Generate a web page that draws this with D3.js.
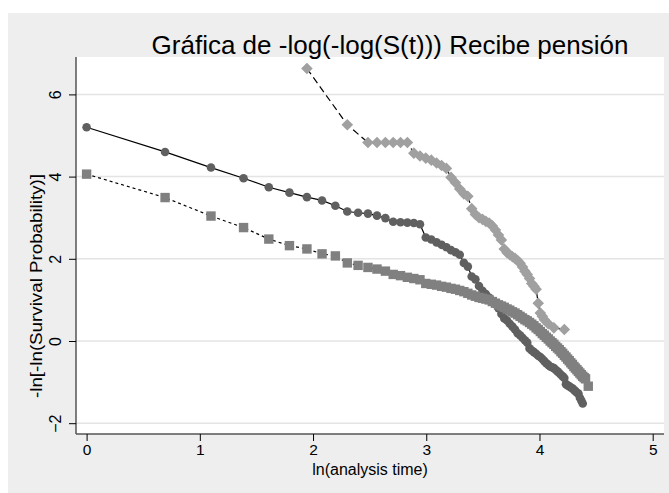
<!DOCTYPE html>
<html><head><meta charset="utf-8">
<script src="https://cdn.jsdelivr.net/npm/d3@7"></script>
<style>body{margin:0;background:#fff}svg{display:block}text{font-family:"Liberation Sans",Arial,sans-serif;fill:#000}</style>
</head><body><svg id="c" width="669" height="493"></svg>
<script>
const title = "Gráfica de -log(-log(S(t))) Recibe pensión";
const xLabel = "ln(analysis time)";
const yLabel = "-ln[-ln(Survival Probability)]";
const xTicks = [0, 1, 2, 3, 4, 5];
const yTicks = [-2, 0, 2, 4, 6];

// Series 1 (circles, solid line)
const timesA = [1,2,3,4,5,6,7,8,9,10,11,12,13,14,15,16,17,18,19,20,21,22,23,24,25,26,27,28,29,30,31,32,33,34,35,36,37,38,39,40,41,42,43,44,45,46,47,48,49,50,51,52,53,54,55,56,57,58,59,60,61,62,63,64,65,66,67,68,69,70,71,72,73,74,75,76,77,78,79,80];
const valuesA = [5.20,4.60,4.22,3.96,3.74,3.61,3.50,3.42,3.29,3.15,3.12,3.10,3.05,2.99,2.90,2.89,2.88,2.87,2.84,2.52,2.47,2.40,2.34,2.28,2.21,2.16,2.10,1.90,1.81,1.57,1.50,1.34,1.22,1.14,1.06,0.98,0.90,0.80,0.66,0.55,0.50,0.42,0.35,0.28,0.19,0.14,0.08,0.02,-0.04,-0.18,-0.23,-0.27,-0.31,-0.36,-0.39,-0.44,-0.49,-0.54,-0.58,-0.62,-0.64,-0.66,-0.70,-0.74,-0.78,-0.82,-0.86,-0.90,-1.05,-1.08,-1.10,-1.13,-1.15,-1.19,-1.22,-1.26,-1.28,-1.38,-1.45,-1.52];

// Series 2 (squares, short-dashed line)
const timesB = [1,2,3,4,5,6,7,8,9,10,11,12,13,14,15,16,17,18,19,20,21,22,23,24,25,26,27,28,29,30,31,32,33,34,35,36,37,38,39,40,41,42,43,44,45,46,47,48,49,50,51,52,53,54,55,56,57,58,59,60,61,62,63,64,65,66,67,68,69,70,71,72,73,74,75,76,77,78,79,80,81,82,84];
const valuesB = [4.06,3.49,3.04,2.76,2.48,2.32,2.24,2.12,2.07,1.90,1.84,1.79,1.75,1.70,1.62,1.59,1.55,1.52,1.49,1.40,1.38,1.36,1.33,1.31,1.28,1.26,1.23,1.20,1.16,1.12,1.09,1.06,1.04,1.02,1.00,0.96,0.92,0.88,0.85,0.82,0.78,0.75,0.71,0.68,0.64,0.60,0.56,0.52,0.49,0.45,0.41,0.37,0.32,0.28,0.23,0.18,0.14,0.09,0.05,0.00,-0.04,-0.08,-0.13,-0.17,-0.21,-0.26,-0.30,-0.35,-0.39,-0.44,-0.48,-0.53,-0.57,-0.62,-0.66,-0.70,-0.74,-0.78,-0.82,-0.86,-0.89,-0.92,-1.10];

// Series 3 (diamonds, long-dashed line)
const timesC = [7,10,12,13,14,15,16,17,18,19,20,21,22,23,24,25,26,27,28,29,30,31,32,33,34,35,36,37,38,39,40,41,42,43,44,45,46,47,48,49,50,51,52,53,54,55,56,57,59,62,68];
const valuesC = [6.63,5.26,4.83,4.83,4.83,4.83,4.83,4.83,4.57,4.50,4.45,4.40,4.33,4.27,4.20,3.98,3.85,3.70,3.58,3.52,3.22,3.08,3.00,2.96,2.91,2.87,2.80,2.70,2.58,2.46,2.24,2.15,2.10,2.05,2.01,1.96,1.89,1.80,1.70,1.62,1.52,1.40,1.33,1.26,0.92,0.68,0.60,0.52,0.42,0.32,0.28];

const svg = d3.select("#c");
const W = 669, H = 493;
const plot = {left: 76, right: 664, top: 57, bottom: 434};
const FONT = '"Liberation Sans",Arial,sans-serif';

// background panel
svg.append("rect").attr("x", 8).attr("y", 13).attr("width", W - 8).attr("height", H - 13).attr("fill", "#eeeeee");
svg.append("rect").attr("x", plot.left).attr("y", plot.top)
  .attr("width", plot.right - plot.left).attr("height", plot.bottom - plot.top).attr("fill", "#ffffff");

const x = d3.scaleLinear().domain([0, 5]).range([86.6, 652.7]);
const y = d3.scaleLinear().domain([-2, 6]).range([423.2, 94.4]);

// gridlines
svg.append("g").selectAll("line").data(yTicks).join("line")
  .attr("x1", plot.left).attr("x2", plot.right)
  .attr("y1", d => y(d)).attr("y2", d => y(d))
  .attr("stroke", "#e4e4e4").attr("stroke-width", 1.5);

// axes
const xAxis = d3.axisBottom(x).tickValues(xTicks).tickSize(7).tickPadding(3).tickFormat(d3.format("d"));
const gx = svg.append("g").attr("transform", `translate(0,${plot.bottom})`).call(xAxis);
gx.select(".domain").attr("d", `M${plot.left},0H${plot.right}`).attr("stroke", "#555").attr("stroke-width", 1.5);
gx.selectAll(".tick line").attr("stroke", "#000");
gx.selectAll(".tick text").attr("font-size", 15.5).attr("font-family", FONT);

const yAxis = d3.axisLeft(y).tickValues(yTicks).tickSize(7).tickPadding(4).tickFormat(d3.format("d"));
const gy = svg.append("g").attr("transform", `translate(${plot.left},0)`).call(yAxis);
gy.select(".domain").attr("d", `M0,${plot.top}V${plot.bottom}`).attr("stroke", "#555").attr("stroke-width", 1.5);
gy.selectAll(".tick line").attr("stroke", "#000");
gy.selectAll(".tick text")
  .attr("font-size", 16).attr("font-family", FONT)
  .attr("text-anchor", "middle").attr("x", null)
  .attr("transform", "translate(-21,0) rotate(-90)").attr("dy", "0.35em");

// data series
function series(times, values) {
  return times.map((t, i) => ({x: Math.log(t), y: values[i]}));
}
const line = d3.line().x(d => x(d.x)).y(d => y(d.y));
const dataA = series(timesA, valuesA);
const dataB = series(timesB, valuesB);
const dataC = series(timesC, valuesC);

const g = svg.append("g");
// circles
g.append("path").datum(dataA).attr("d", line).attr("fill", "none").attr("stroke", "#000").attr("stroke-width", 1.2);
g.append("g").selectAll("circle").data(dataA).join("circle")
  .attr("cx", d => x(d.x)).attr("cy", d => y(d.y)).attr("r", 4.3).attr("fill", "#606060");
// squares
g.append("path").datum(dataB).attr("d", line).attr("fill", "none").attr("stroke", "#000").attr("stroke-width", 1.2).attr("stroke-dasharray", "3,3");
const sq = 9.4;
g.append("g").selectAll("rect").data(dataB).join("rect")
  .attr("x", d => x(d.x) - sq / 2).attr("y", d => y(d.y) - sq / 2).attr("width", sq).attr("height", sq).attr("fill", "#808080");
// diamonds
g.append("path").datum(dataC).attr("d", line).attr("fill", "none").attr("stroke", "#000").attr("stroke-width", 1.2).attr("stroke-dasharray", "7,4");
const dm = 5.8;
g.append("g").selectAll("path").data(dataC).join("path")
  .attr("d", d => { const cx = x(d.x), cy = y(d.y); return `M${cx},${cy - dm}L${cx + dm},${cy}L${cx},${cy + dm}L${cx - dm},${cy}Z`; })
  .attr("fill", "#a0a0a0");

// titles
svg.append("text").attr("x", 390).attr("y", 54).attr("text-anchor", "middle")
  .attr("font-size", 26).text(title);
svg.append("text").attr("x", 370).attr("y", 475).attr("text-anchor", "middle")
  .attr("font-size", 16).text(xLabel);
svg.append("text").attr("transform", "translate(36,286) rotate(-90)").attr("text-anchor", "middle")
  .attr("dy", "0.35em").attr("font-size", 17)
  .attr("textLength", 224).attr("lengthAdjust", "spacingAndGlyphs").text(yLabel);
</script></body></html>
